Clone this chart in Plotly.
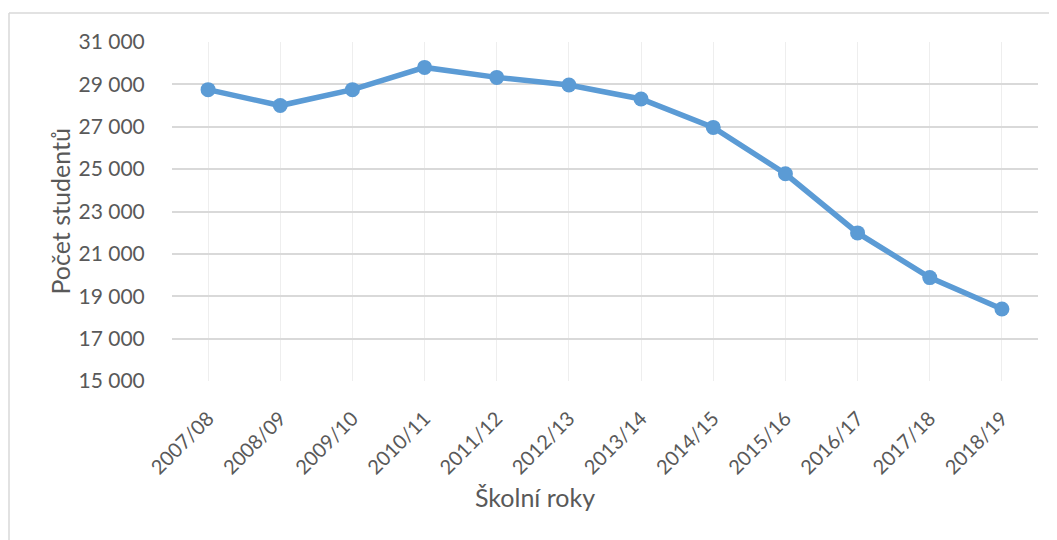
import plotly.graph_objects as go

categories = ["2007/08", "2008/09", "2009/10", "2010/11", "2011/12", "2012/13",
              "2013/14", "2014/15", "2015/16", "2016/17", "2017/18", "2018/19"]
students = [28750, 28000, 28750, 29800, 29330, 28970, 28310, 26970, 24780, 21990, 19880, 18400]
y_ticks = [15000, 17000, 19000, 21000, 23000, 25000, 27000, 29000, 31000]
y_tick_labels = [f"{v:,}".replace(",", " ") for v in y_ticks]

FONT = "Lato"
TXT = "#595959"

fig = go.Figure()
fig.add_trace(go.Scatter(
    x=list(range(len(categories))), y=students, mode="lines+markers",
    line=dict(color="#5B9BD5", width=5.5),
    marker=dict(color="#5B9BD5", size=15),
    showlegend=False, hoverinfo="x+y",
))

OFF = 8  # page body margin
W, H = 1057, 540
# target plot-area pixels in the screenshot
PX0, PX1, PY0, PY1 = 172, 1038, 42, 381
L, T = PX0 - OFF, PY0 - OFF
R = W + OFF - PX1
B = H + OFF - PY1
pw, ph = PX1 - PX0, PY1 - PY0


def px(x):
    return (x - PX0) / pw


def py(y):
    return (PY1 - y) / ph


fig.update_layout(
    width=W, height=H,
    margin=dict(l=L, r=R, t=T, b=B, pad=0),
    paper_bgcolor="white", plot_bgcolor="white",
    font=dict(family=FONT, color=TXT, size=20),
    xaxis=dict(
        range=[-0.5, len(categories) - 0.5],
        tickmode="array", tickvals=list(range(len(categories))), ticktext=categories,
        tickangle=-45, showgrid=True, gridcolor="#EEEEEE", gridwidth=1.3,
        zeroline=False, showline=False,
        ticks="outside", ticklen=17, tickcolor="rgba(0,0,0,0)",
        tickfont=dict(family=FONT, size=20, color=TXT),
    ),
    yaxis=dict(
        range=[15000, 31000], tickmode="array", tickvals=y_ticks, ticktext=y_tick_labels,
        showgrid=True, gridcolor="#D9D9D9", gridwidth=1.5, zeroline=False, showline=False,
        ticks="outside", ticklen=22, tickcolor="rgba(0,0,0,0)",
        tickfont=dict(family=FONT, size=21, color=TXT),
    ),
    annotations=[
        dict(text="Počet studentů", xref="paper", yref="paper",
             x=px(59), y=0.5, textangle=-90, showarrow=False,
             font=dict(family=FONT, size=25, color=TXT), xanchor="center", yanchor="middle"),
        dict(text="Školní roky", xref="paper", yref="paper",
             x=px(535), y=py(497), showarrow=False,
             font=dict(family=FONT, size=25, color=TXT), xanchor="center", yanchor="middle"),
    ],
    shapes=[
        dict(type="line", xref="paper", yref="paper",
             x0=px(9), x1=px(1070), y0=py(13), y1=py(13),
             line=dict(color="#D9D9D9", width=1.5)),
        dict(type="line", xref="paper", yref="paper",
             x0=px(9), x1=px(9), y0=py(13), y1=py(560),
             line=dict(color="#D9D9D9", width=1.5)),
    ],
)

fig.write_html("out.html")
